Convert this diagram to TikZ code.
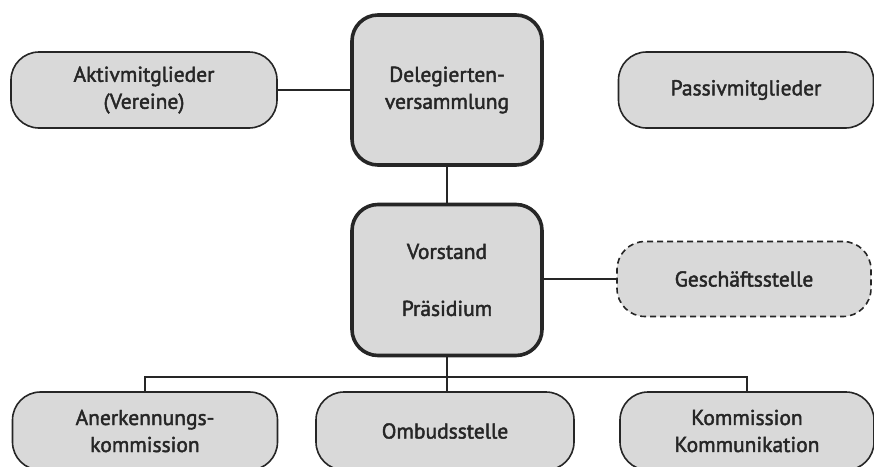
\documentclass[tikz,border=0pt]{standalone}
\usepackage{fontspec}
\setmainfont[FakeBold=2]{PT Sans}
\begin{document}
\begin{tikzpicture}[x=1pt,y=-1pt,
  box/.style={draw=black!85, line width=1.6pt, fill=boxgray, rounded corners=28pt,
    inner sep=0pt, align=center, font=\fontsize{21.5}{27}\selectfont, text=black!85},
  bigbox/.style={box, line width=3.6pt, rounded corners=26pt},
  dashbox/.style={box, dashed, dash pattern=on 6pt off 4pt},
  conn/.style={draw=black!85, line width=1.8pt}]
\definecolor{boxgray}{HTML}{D9D9D9}
\useasboundingbox (0,0) rectangle (874,466);
\begin{scope}
\clip (0,0) rectangle (874,466);
\node[box, minimum width=266pt, minimum height=76pt] (aktiv) at (144,90) {Aktivmitglieder\\(Vereine)};
\node[bigbox, minimum width=190pt, minimum height=150pt] (deleg) at (447,90) {Delegierten-\\versammlung};
\node[box, minimum width=255pt, minimum height=76pt] (passiv) at (746,90) {Passivmitglieder};
\node[bigbox, minimum width=190pt, minimum height=151pt] (vorst) at (447,280) {Vorstand\\[30pt]Präsidium};
\node[dashbox, minimum width=254pt, minimum height=75pt] (gesch) at (744,279) {Geschäftsstelle};
\node[box, minimum width=265pt, minimum height=78pt] (anerk) at (145,431) {Anerkennungs-\\kommission};
\node[box, minimum width=258pt, minimum height=78pt] (ombud) at (445,431) {Ombudsstelle};
\node[box, minimum width=254pt, minimum height=78pt] (komm) at (747,431) {Kommission\\Kommunikation};
\end{scope}
\coordinate (bus) at (447,377);
\draw[conn] (aktiv.east) -- (aktiv.east -| deleg.west);
\draw[conn] (deleg.south) -- (vorst.north);
\draw[conn] (vorst.east |- gesch.west) -- (gesch.west);
\draw[conn] (vorst.south) -- (bus);
\draw[conn] (anerk.north) |- (bus) -| (komm.north);
\draw[conn] (bus) -- (bus |- ombud.north);
\end{tikzpicture}
\end{document}
